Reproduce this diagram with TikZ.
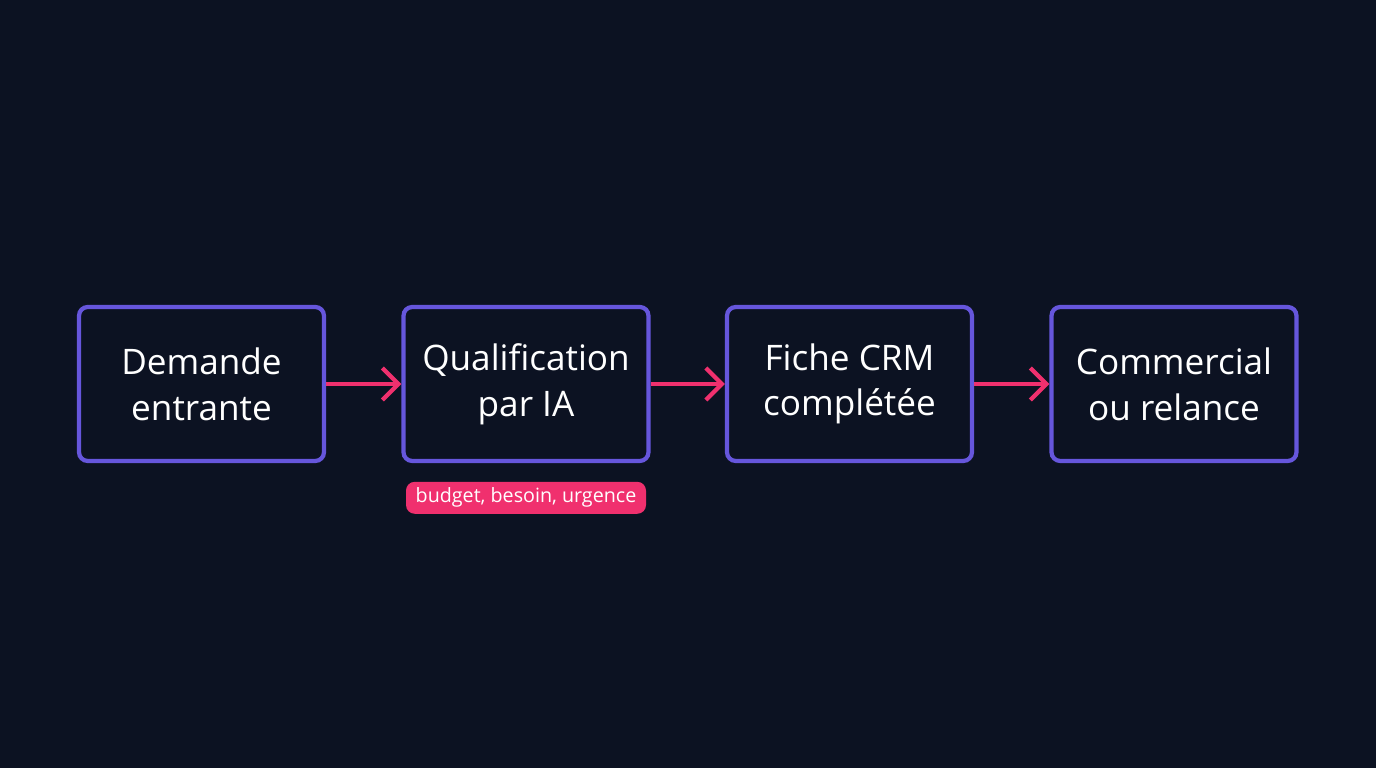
\documentclass[tikz,border=0pt]{standalone}
\usepackage{fontspec}
\setmainfont{Open Sans}
\usetikzlibrary{positioning,arrows.meta}
\definecolor{bgdark}{HTML}{0C1222}
\definecolor{boxline}{HTML}{6656DC}
\definecolor{arrowpink}{HTML}{F0306E}
\tikzset{
  stage/.style={draw=boxline, line width=1.2pt, rounded corners=2.5pt, minimum width=2.45cm, minimum height=1.54cm, align=center, text=white, font=\fontsize{10}{13}\selectfont},
  flow/.style={draw=arrowpink, line width=1.2pt, -{Straight Barb[length=1.6mm,width=3.2mm]}},
  tag/.style={fill=arrowpink, rounded corners=2.5pt, text=white, minimum width=2.4cm, minimum height=0.32cm, inner sep=1pt, font=\fontsize{5.6}{6}\selectfont}
}
\begin{document}
\begin{tikzpicture}
\fill[bgdark] (0,0) rectangle (13.76,7.68);
\useasboundingbox (0,0) rectangle (13.76,7.68);
\node[stage] (dem) at (2.015,3.84) {Demande\\entrante};
\node[stage] (qual) at (5.26,3.84) {Qualification\\par IA};
\node[stage] (crm) at (8.495,3.84) {Fiche CRM\\complétée};
\node[stage] (com) at (11.74,3.84) {Commercial\\ou relance};
\draw[flow] (dem) -- (qual);
\draw[flow] (qual) -- (crm);
\draw[flow] (crm) -- (com);
\node[tag, below=0.18cm of qual] (crit) {budget, besoin, urgence};
\end{tikzpicture}
\end{document}
